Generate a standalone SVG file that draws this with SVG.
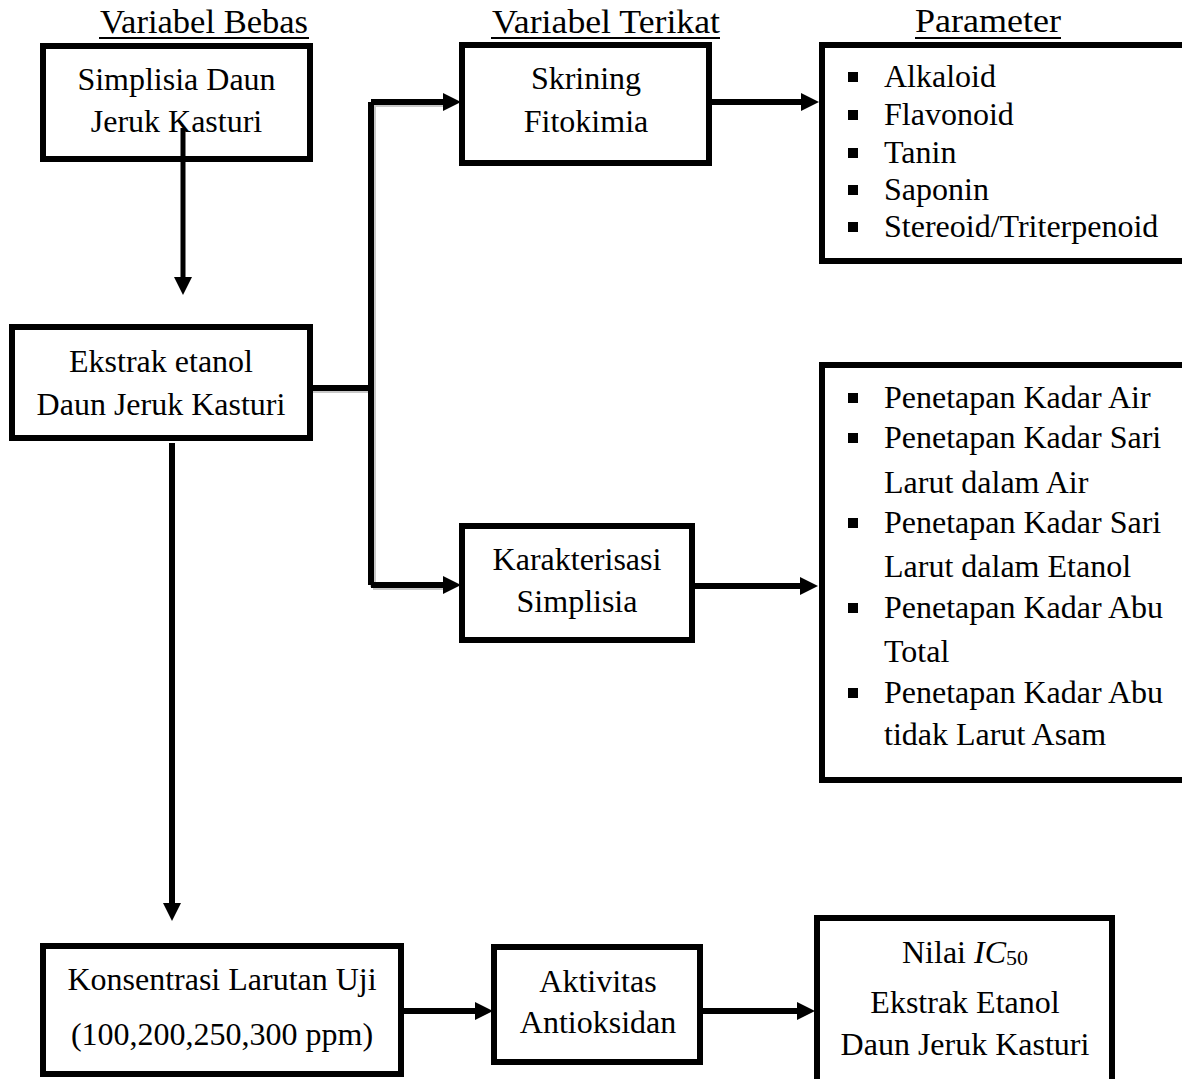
<svg xmlns="http://www.w3.org/2000/svg" width="1182" height="1079" viewBox="0 0 1182 1079">
<style>
.box{fill:#fff;stroke:#000;stroke-width:6}
.t{font-family:"Liberation Serif","Times New Roman",serif;font-size:32px;fill:#000}
.c{text-anchor:middle}
.h{font-family:"Liberation Serif","Times New Roman",serif;font-size:33px;fill:#000}
.ul{stroke:#000;stroke-width:2}
.ln{fill:none;stroke:#000;stroke-width:6}
.sh{fill:none;stroke:#c8c8c8;stroke-width:6}
.b{fill:#000}
</style>
<defs>
<marker id="ah" markerUnits="userSpaceOnUse" markerWidth="18" markerHeight="18" refX="8" refY="9" orient="auto">
<path d="M0,0 L18,9 L0,18 z" fill="#000"/>
</marker>
</defs>
<rect width="1182" height="1079" fill="#fff"/>

<g id="headers">
<text class="h" x="100" y="33" textLength="208" lengthAdjust="spacingAndGlyphs">Variabel Bebas</text>
<line class="ul" x1="99" y1="38" x2="309" y2="38"/>
<text class="h" x="492" y="33" textLength="228" lengthAdjust="spacingAndGlyphs">Variabel Terikat</text>
<line class="ul" x1="491" y1="38" x2="720" y2="38"/>
<text class="h" x="915" y="32" textLength="146" lengthAdjust="spacingAndGlyphs">Parameter</text>
<line class="ul" x1="915" y1="38" x2="1061" y2="38"/>
</g>

<g id="connectors">
<path class="sh" d="M313,390 H373 M373,103 V587 M373,104 H448 M373,587 H448"/>
<path class="ln" d="M371,102 V585"/>
<path class="ln" d="M313,388 H371"/>
<path class="ln" d="M371,102 H451" marker-end="url(#ah)"/>
<path class="ln" d="M371,585 H451" marker-end="url(#ah)"/>
<path class="ln" d="M183,128 V285" marker-end="url(#ah)" style="stroke-width:5"/>
<path class="ln" d="M712,102 H809" marker-end="url(#ah)"/>
<path class="ln" d="M695,586 H808" marker-end="url(#ah)"/>
<path class="ln" d="M172,443 V911" marker-end="url(#ah)"/>
<path class="ln" d="M404,1011 H483" marker-end="url(#ah)"/>
<path class="ln" d="M703,1011 H805" marker-end="url(#ah)"/>
</g>

<g id="simplisia">
<rect class="box" x="43" y="46" width="267" height="113"/>
<text class="t c" x="176.5" y="90">Simplisia Daun</text>
<text class="t c" x="176.5" y="132">Jeruk Kasturi</text>
</g>
<path d="M183,128 V160" stroke="#000" stroke-width="5"/>

<g id="ekstrak">
<rect class="box" x="12" y="327" width="298" height="111"/>
<text class="t c" x="161" y="372">Ekstrak etanol</text>
<text class="t c" x="161" y="415">Daun Jeruk Kasturi</text>
</g>

<g id="skrining">
<rect class="box" x="462" y="45" width="247" height="118"/>
<text class="t c" x="586" y="89">Skrining</text>
<text class="t c" x="586" y="132">Fitokimia</text>
</g>

<g id="karakterisasi">
<rect class="box" x="462" y="526" width="230" height="114"/>
<text class="t c" x="577" y="570">Karakterisasi</text>
<text class="t c" x="577" y="612">Simplisia</text>
</g>

<g id="param-fitokimia">
<rect class="box" x="822" y="45" width="400" height="216"/>
<rect class="b" x="848" y="72" width="10" height="10"/>
<text class="t" x="884" y="87">Alkaloid</text>
<rect class="b" x="848" y="110" width="10" height="10"/>
<text class="t" x="884" y="125">Flavonoid</text>
<rect class="b" x="848" y="148" width="10" height="10"/>
<text class="t" x="884" y="163">Tanin</text>
<rect class="b" x="848" y="185" width="10" height="10"/>
<text class="t" x="884" y="200">Saponin</text>
<rect class="b" x="848" y="222" width="10" height="10"/>
<text class="t" x="884" y="237">Stereoid/Triterpenoid</text>
</g>

<g id="param-karakterisasi">
<rect class="box" x="822" y="365" width="400" height="415"/>
<rect class="b" x="848" y="393" width="10" height="10"/>
<text class="t" x="884" y="408">Penetapan Kadar Air</text>
<rect class="b" x="848" y="433" width="10" height="10"/>
<text class="t" x="884" y="448">Penetapan Kadar Sari</text>
<text class="t" x="884" y="493">Larut dalam Air</text>
<rect class="b" x="848" y="518" width="10" height="10"/>
<text class="t" x="884" y="533">Penetapan Kadar Sari</text>
<text class="t" x="884" y="577">Larut dalam Etanol</text>
<rect class="b" x="848" y="603" width="10" height="10"/>
<text class="t" x="884" y="618">Penetapan Kadar Abu</text>
<text class="t" x="884" y="662">Total</text>
<rect class="b" x="848" y="688" width="10" height="10"/>
<text class="t" x="884" y="703">Penetapan Kadar Abu</text>
<text class="t" x="884" y="745">tidak Larut Asam</text>
</g>

<g id="konsentrasi">
<rect class="box" x="43" y="946" width="358" height="128"/>
<text class="t c" x="222" y="990">Konsentrasi Larutan Uji</text>
<text class="t c" x="222" y="1045">(100,200,250,300 ppm)</text>
</g>

<g id="aktivitas">
<rect class="box" x="494" y="947" width="206" height="115"/>
<text class="t c" x="598" y="992">Aktivitas</text>
<text class="t c" x="598" y="1033">Antioksidan</text>
</g>

<g id="ic50">
<rect class="box" x="817" y="918" width="295" height="200"/>
<text class="t c" x="965" y="963">Nilai <tspan font-style="italic">IC</tspan><tspan font-size="22" dy="2">50</tspan></text>
<text class="t c" x="965" y="1013">Ekstrak Etanol</text>
<text class="t c" x="965" y="1055">Daun Jeruk Kasturi</text>
</g>
</svg>
